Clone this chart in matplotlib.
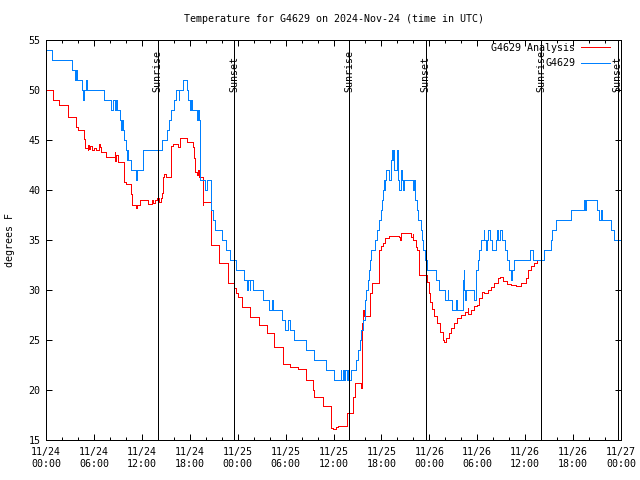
import matplotlib
matplotlib.use("Agg")
import matplotlib.pyplot as plt
import matplotlib.transforms as mtransforms

# ---- data (hours since 2024-11-24 00:00 UTC, degrees F) ----
blue_hours = [0.0, 0.8, 3.2, 3.6, 3.75, 3.85, 4.5, 4.6, 4.7, 5.0, 5.1, 7.25, 8.2, 8.4, 8.6, 8.8, 8.9,
              9.25, 9.4, 9.5, 9.6, 9.8, 10.0, 10.1, 10.2, 10.3, 10.7, 11.3, 11.45, 12.1, 14.5, 15.1,
              15.4, 15.7, 16.0, 16.3, 16.6, 16.7, 17.1, 17.6, 17.8, 18.0, 18.1, 18.3, 18.9, 19.0, 19.1,
              19.3, 19.9, 20.2, 20.7, 20.85, 21.1, 22.1, 22.6, 23.1, 23.8, 24.8, 25.2, 25.3, 25.5, 25.6,
              25.9, 27.2, 27.9, 28.3, 28.4, 29.5, 29.9, 30.3, 30.5, 31.1, 32.6, 33.6, 35.0, 36.1, 36.9,
              37.0, 37.2, 37.35, 37.5, 37.7, 37.8, 38.0, 38.2, 38.8, 39.1, 39.3, 39.5, 39.75, 39.9, 40.0,
              40.1, 40.3, 40.4, 40.6, 40.7, 41.25, 41.4, 41.7, 42.0, 42.1, 42.2, 42.3, 42.4, 42.5, 42.6,
              43.0, 43.2, 43.3, 43.4, 43.5, 43.6, 44.0, 44.1, 44.2, 44.4, 44.6, 44.7, 44.8, 46.0, 46.1,
              46.25, 46.4, 46.6, 46.96, 47.1, 47.25, 47.45, 47.67, 48.8, 49.2, 50.0, 50.3, 50.4, 50.8,
              51.4, 51.5, 52.2, 52.3, 52.4, 52.5, 52.6, 53.4, 53.6, 53.83, 54.04, 54.25, 54.46, 54.8,
              54.9, 55.08, 55.2, 55.3, 55.58, 55.83, 56.33, 56.5, 56.65, 56.8, 57.1, 57.5, 57.7, 58.0,
              58.2, 58.4, 58.6, 60.55, 61.0, 62.4, 63.2, 63.4, 63.8, 65.7, 67.4, 67.5, 67.6, 68.9,
              69.05, 69.25, 69.45, 69.6, 70.7, 71.1, 72.0]
blue_temps = [54, 53, 52, 51, 52, 51, 50, 49, 50, 51, 50, 49, 48, 49, 48, 49, 48,
              47, 46, 47, 46, 45, 44, 43, 44, 43, 42, 41, 42, 44, 45, 46,
              47, 48, 49, 50, 49, 50, 51, 50, 49, 48, 49, 48, 47, 48, 47,
              41, 40, 41, 38, 37, 36, 35, 34, 33, 32, 31, 30, 31, 30, 31,
              30, 29, 28, 29, 28, 27, 26, 27, 26, 25, 24, 23, 22, 21, 22,
              21, 22, 21, 22, 21, 22, 21, 22, 23, 24, 25, 26, 27, 28, 29,
              30, 31, 32, 33, 34, 35, 36, 37, 38, 39, 40, 41, 40, 41, 42,
              41, 43, 44, 43, 44, 42, 44, 41, 40, 42, 41, 40, 41, 40, 41,
              39, 38, 37, 36, 35, 34, 33, 32, 31, 30, 29, 30, 29, 28,
              29, 28, 31, 32, 30, 29, 30, 30, 29, 32, 33, 34, 35, 36,
              35, 34, 35, 36, 35, 34, 35, 36, 35, 36, 35, 34, 33, 32,
              31, 32, 33, 34, 33, 34, 35, 36, 37, 38, 39, 38, 39, 39,
              38, 37, 38, 37, 36, 35, 35]

red_hours = [0.0, 0.85, 1.6, 2.7, 3.7, 4.0, 4.75, 4.85, 5.2, 5.3, 5.4, 5.5, 5.7, 6.0, 6.3, 6.6, 6.7,
             6.9, 7.5, 8.6, 8.7, 8.8, 9.0, 9.75, 10.0, 10.7, 10.8, 11.3, 11.4, 11.8, 12.8, 13.3, 13.4,
             13.6, 13.9, 14.2, 14.35, 14.5, 14.7, 14.8, 15.0, 15.7, 15.9, 16.5, 16.8, 17.6, 18.4, 18.5,
             18.7, 18.9, 19.0, 19.1, 19.6, 19.7, 20.6, 20.7, 21.6, 22.8, 23.6, 23.8, 24.0, 24.6, 25.5,
             25.6, 26.7, 27.7, 28.6, 29.7, 30.6, 31.5, 32.5, 33.4, 33.6, 34.7, 35.7, 35.9, 36.3, 36.6,
             37.67, 38.5, 38.75, 39.5, 39.6, 39.7, 39.8, 40.58, 40.83, 41.67, 41.9, 42.2, 42.5, 43.0,
             44.25, 44.35, 44.46, 45.7, 45.9, 46.0, 46.33, 46.5, 46.67, 47.67, 47.92, 48.08, 48.33,
             48.6, 49.0, 49.3, 49.67, 49.83, 50.08, 50.42, 50.7, 51.1, 51.5, 51.96, 52.5, 52.8, 52.9,
             53.2, 53.6, 54.0, 54.25, 54.6, 54.9, 55.3, 55.7, 56.1, 56.54, 56.8, 57.2, 57.7, 58.2,
             58.8, 59.5, 60.1, 60.4, 60.7, 61.1, 61.5, 62.0]
red_temps = [50.0, 49.0, 48.5, 47.3, 46.3, 46.0, 45.1, 44.2, 44.0, 44.5, 44.1, 44.4, 44.0, 44.2, 44.0, 44.6, 44.3,
             43.8, 43.3, 43.8, 42.9, 43.5, 42.8, 40.8, 40.6, 39.6, 38.5, 38.2, 38.5, 39.0, 38.6, 39.0, 38.7,
             39.0, 39.2, 38.8, 39.2, 39.7, 41.3, 41.6, 41.3, 44.4, 44.6, 44.3, 45.2, 44.8, 44.3, 43.2,
             41.8, 41.5, 42.0, 41.3, 38.5, 38.8, 38.0, 34.5, 32.7, 30.7, 30.2, 29.7, 29.3, 28.3, 27.8,
             27.3, 26.5, 25.7, 24.3, 22.6, 22.3, 22.1, 21.0, 20.0, 19.3, 18.4, 16.2, 16.1, 16.3, 16.4,
             17.7, 19.3, 20.7, 20.2, 26.7, 28.0, 27.4, 29.7, 30.7, 34.0, 34.4, 34.7, 35.2, 35.4,
             35.3, 35.0, 35.7, 35.3, 35.6, 35.0, 34.3, 34.0, 31.5, 30.8, 29.7, 28.8, 28.1,
             27.4, 26.7, 25.8, 25.0, 24.8, 25.2, 25.7, 26.2, 26.7, 27.2, 27.5, 27.8, 28.2, 27.6,
             28.0, 28.4, 28.5, 29.2, 29.8, 29.7, 30.0, 30.3, 30.7, 31.2, 31.3, 30.9, 30.6, 30.5,
             30.4, 30.7, 31.2, 32.0, 32.4, 32.7, 33.0, 33.0]

sunrise_hours = [14.0, 38.0, 62.0]
sunset_hours = [23.6, 47.55, 71.6]

xtick_hours = [0, 6, 12, 18, 24, 30, 36, 42, 48, 54, 60, 66, 72]
xtick_labels = ["11/24\n00:00", "11/24\n06:00", "11/24\n12:00", "11/24\n18:00",
                "11/25\n00:00", "11/25\n06:00", "11/25\n12:00", "11/25\n18:00",
                "11/26\n00:00", "11/26\n06:00", "11/26\n12:00", "11/26\n18:00",
                "11/27\n00:00"]
ytick_values = [15, 20, 25, 30, 35, 40, 45, 50, 55]

title = "Temperature for G4629 on 2024-Nov-24 (time in UTC)"
red_label = "G4629 Analysis"
blue_label = "G4629"

# ---- style ----
FONT = "DejaVu Sans Mono"
FS = 7.2
LW = 0.72
plt.rcParams['font.family'] = [FONT]
plt.rcParams['font.size'] = FS

fig = plt.figure(figsize=(6.4, 4.8), dpi=100)
ax = fig.add_axes([46 / 640, 40 / 480, 575 / 640, 400 / 480])

ax.plot(red_hours, red_temps, drawstyle='steps-post', color='#ff0000', lw=LW,
        label=red_label, antialiased=False)
ax.plot(blue_hours, blue_temps, drawstyle='steps-post', color='#0080ff', lw=LW,
        label=blue_label, antialiased=False)

trans = mtransforms.blended_transform_factory(ax.transData, ax.transAxes)
for h in sunrise_hours:
    ax.axvline(h, color='black', lw=LW, antialiased=False)
    ax.text(h, 0.87, "Sunrise", rotation=90, ha='center', va='bottom', transform=trans, fontsize=FS)
for h in sunset_hours:
    ax.axvline(h, color='black', lw=LW, antialiased=False)
    ax.text(h, 0.87, "Sunset", rotation=90, ha='center', va='bottom', transform=trans, fontsize=FS)

ax.set_xlim(0, 72)
ax.set_ylim(15, 55)
ax.set_xticks(xtick_hours)
ax.set_xticklabels(xtick_labels)
ax.set_xticks(list(range(0, 73, 2)), minor=True)
ax.set_yticks(ytick_values)
ax.tick_params(axis='both', which='both', direction='in', top=True, right=True, labelsize=FS)
ax.tick_params(axis='both', which='major', length=4.5, width=LW)
ax.tick_params(axis='both', which='minor', length=2.5, width=LW)
ax.tick_params(axis='x', which='major', pad=5)
ax.tick_params(axis='y', which='major', pad=4)
for s in ax.spines.values():
    s.set_linewidth(LW)

fig.text(333.5 / 640, 1 - 19 / 480, title, ha='center', va='center', fontsize=FS)
fig.text(10 / 640, 0.5, "degrees F", rotation=90, ha='center', va='center', fontsize=FS)

ax.legend(loc='upper right', bbox_to_anchor=(1 - 3 / 575, 1 + 5 / 400), frameon=False,
          markerfirst=False, fontsize=FS, handlelength=2.9, labelspacing=0.55,
          borderaxespad=0.4, handletextpad=0.6)

fig.savefig("out.png", dpi=100)
